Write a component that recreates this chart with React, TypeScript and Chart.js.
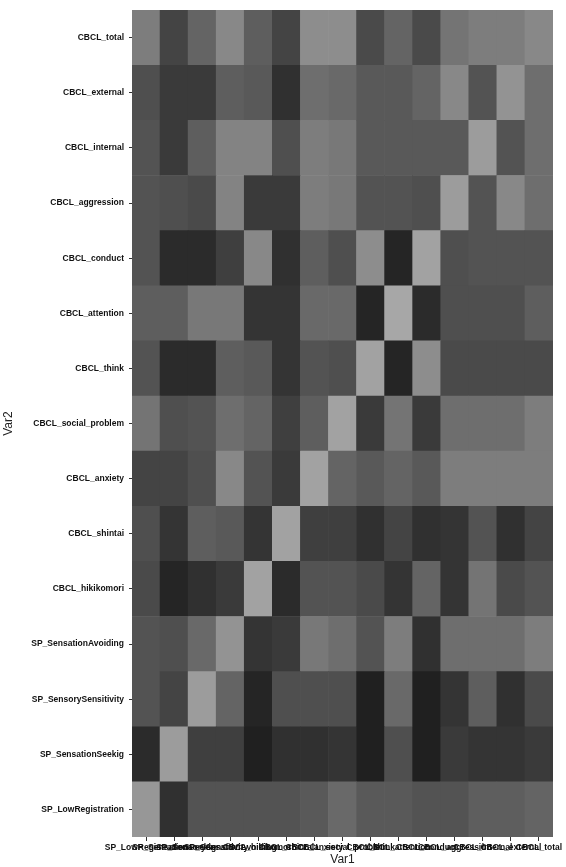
import React, { useEffect, useRef } from "react";
import { Chart, registerables } from "chart.js";

Chart.register(...registerables);

// Variables (x axis left→right, y axis bottom→top)
const variables = [
  "SP_LowRegistration",
  "SP_SensationSeekig",
  "SP_SensorySensitivity",
  "SP_SensationAvoiding",
  "CBCL_hikikomori",
  "CBCL_shintai",
  "CBCL_anxiety",
  "CBCL_social_problem",
  "CBCL_think",
  "CBCL_attention",
  "CBCL_conduct",
  "CBCL_aggression",
  "CBCL_internal",
  "CBCL_external",
  "CBCL_total",
];

// Cell values (0 = darkest, 1 = lightest), one array per Var2 row, columns in `variables` order
const rowLowRegistration = [0.88, 0.12, 0.38, 0.38, 0.38, 0.38, 0.42, 0.54, 0.42, 0.42, 0.38, 0.38, 0.46, 0.46, 0.5];
const rowSensationSeekig = [0.08, 0.92, 0.23, 0.23, 0.0, 0.12, 0.12, 0.15, 0.0, 0.35, 0.0, 0.19, 0.15, 0.15, 0.19];
const rowSensorySensitivity = [0.38, 0.27, 0.92, 0.5, 0.04, 0.35, 0.35, 0.35, 0.0, 0.54, 0.0, 0.15, 0.46, 0.12, 0.31];
const rowSensationAvoiding = [0.38, 0.35, 0.54, 0.85, 0.15, 0.19, 0.65, 0.58, 0.38, 0.69, 0.12, 0.58, 0.58, 0.58, 0.69];
const rowHikikomori = [0.31, 0.04, 0.12, 0.19, 0.96, 0.08, 0.38, 0.38, 0.31, 0.15, 0.5, 0.15, 0.62, 0.31, 0.38];
const rowShintai = [0.35, 0.15, 0.46, 0.42, 0.15, 0.96, 0.23, 0.23, 0.12, 0.27, 0.12, 0.15, 0.38, 0.12, 0.27];
const rowAnxiety = [0.27, 0.27, 0.35, 0.77, 0.38, 0.19, 0.96, 0.5, 0.42, 0.5, 0.42, 0.69, 0.69, 0.69, 0.69];
const rowSocialProblem = [0.62, 0.35, 0.38, 0.58, 0.5, 0.23, 0.46, 0.96, 0.19, 0.62, 0.19, 0.58, 0.58, 0.58, 0.69];
const rowThink = [0.38, 0.08, 0.08, 0.46, 0.42, 0.15, 0.38, 0.35, 0.96, 0.04, 0.81, 0.31, 0.31, 0.31, 0.31];
const rowAttention = [0.46, 0.46, 0.65, 0.65, 0.15, 0.15, 0.54, 0.54, 0.04, 1.0, 0.08, 0.35, 0.35, 0.35, 0.46];
const rowConduct = [0.38, 0.08, 0.08, 0.23, 0.77, 0.12, 0.46, 0.35, 0.81, 0.04, 0.96, 0.35, 0.38, 0.38, 0.38];
const rowAggression = [0.38, 0.35, 0.31, 0.73, 0.19, 0.19, 0.69, 0.65, 0.38, 0.38, 0.35, 0.92, 0.38, 0.77, 0.58];
const rowInternal = [0.38, 0.19, 0.46, 0.73, 0.73, 0.35, 0.69, 0.65, 0.42, 0.42, 0.42, 0.42, 0.92, 0.38, 0.58];
const rowExternal = [0.35, 0.19, 0.19, 0.46, 0.42, 0.12, 0.58, 0.54, 0.42, 0.42, 0.5, 0.77, 0.38, 0.85, 0.58];
const rowTotal = [0.69, 0.27, 0.5, 0.77, 0.46, 0.27, 0.81, 0.81, 0.31, 0.5, 0.31, 0.62, 0.69, 0.69, 0.77];

const rows = [
  rowLowRegistration,
  rowSensationSeekig,
  rowSensorySensitivity,
  rowSensationAvoiding,
  rowHikikomori,
  rowShintai,
  rowAnxiety,
  rowSocialProblem,
  rowThink,
  rowAttention,
  rowConduct,
  rowAggression,
  rowInternal,
  rowExternal,
  rowTotal,
];

function toGray(v: number): string {
  const g = Math.round(32 + v * 135);
  return `rgb(${g},${g},${g})`;
}

const tickFont = { family: "'Liberation Sans', Arial, sans-serif", size: 8.5, weight: "bold" as const };
const titleFont = { family: "'Liberation Sans', Arial, sans-serif", size: 12, weight: "normal" as const };

export default function App() {
  const ref = useRef<HTMLCanvasElement>(null);

  useEffect(() => {
    if (!ref.current) return;
    const datasets = rows.map((row, r) => ({
      label: variables[r],
      data: row.map(() => [r - 0.5, r + 0.5] as [number, number]),
      backgroundColor: row.map(toGray),
      borderWidth: 0,
      barPercentage: 1,
      categoryPercentage: 1,
      grouped: false,
    }));

    const chart = new Chart(ref.current, {
      type: "bar",
      data: { labels: variables, datasets: datasets as any },
      options: {
        animation: false,
        responsive: false,
        maintainAspectRatio: false,
        layout: { padding: { top: 9, right: 13, left: 0, bottom: 0 } },
        plugins: { legend: { display: false }, tooltip: { enabled: false } },
        scales: {
          x: {
            type: "category",
            offset: true,
            grid: {
              display: true,
              offset: false,
              drawOnChartArea: false,
              drawTicks: true,
              tickLength: 4,
              tickColor: "#333",
            },
            border: { display: false },
            ticks: {
              autoSkip: false,
              maxRotation: 0,
              minRotation: 0,
              padding: 2,
              color: "#111",
              font: tickFont,
            },
            title: {
              display: true,
              text: "Var1",
              color: "#222",
              font: titleFont,
              padding: { top: 0, bottom: 0 },
            },
            afterFit: (s: any) => {
              s.height = 30;
            },
          },
          y: {
            type: "linear",
            min: -0.5,
            max: 14.5,
            afterBuildTicks: (axis: any) => {
              axis.ticks = variables.map((_, i) => ({ value: i }));
            },
            grid: {
              display: true,
              drawOnChartArea: false,
              drawTicks: true,
              tickLength: 3,
              tickColor: "#333",
            },
            border: { display: false },
            ticks: {
              padding: 5,
              color: "#111",
              font: tickFont,
              callback: (v: any) => variables[Number(v)] ?? "",
            },
            title: {
              display: true,
              text: "Var2",
              color: "#222",
              font: titleFont,
              padding: { top: 1, bottom: 1 },
            },
            afterFit: (s: any) => {
              s.width = 132;
            },
          },
        },
      },
    });
    return () => chart.destroy();
  }, []);

  return (
    <div style={{ position: "absolute", left: 0, top: 0, width: 566, height: 867, background: "#fff" }}>
      <canvas ref={ref} width={566} height={867} style={{ display: "block", width: 566, height: 867 }} />
    </div>
  );
}
